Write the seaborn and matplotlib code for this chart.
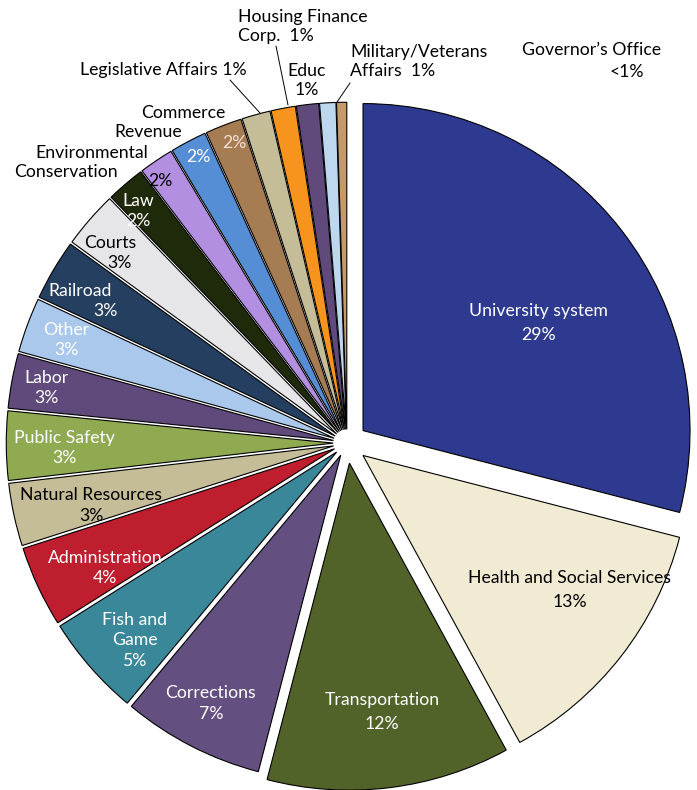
import matplotlib
matplotlib.use("Agg")
import matplotlib.pyplot as plt
import seaborn as sns

# ---- data (clockwise from 12 o'clock) ----
departments = ["University system", "Health and Social Services", "Transportation",
               "Corrections", "Fish and Game", "Administration", "Natural Resources",
               "Public Safety", "Labor", "Other", "Railroad", "Courts", "Law",
               "Environmental Conservation", "Revenue", "Commerce",
               "Legislative Affairs", "Housing Finance Corp.", "Educ",
               "Military/Veterans Affairs", "Governor's Office"]
shares = [29.0, 13.0, 12.0, 7.0, 5.0, 4.0, 3.1, 3.4, 2.7, 2.7, 3.0, 2.8, 1.9,
          1.7, 1.8, 1.8, 1.4, 1.2, 1.1, 0.8, 0.5]
pct_labels = ["29%", "13%", "12%", "7%", "5%", "4%", "3%", "3%", "3%", "3%", "3%",
              "3%", "2%", "2%", "2%", "2%", "1%", "1%", "1%", "1%", "<1%"]
colors = ["#2E3990", "#F1EBD3", "#52632A", "#634F80", "#3A879A", "#BE1E2D",
          "#C4BD97", "#8FAA50", "#5F4A7B", "#A9C8EB", "#243F60", "#E6E6E8",
          "#1F2A0A", "#B28FE0", "#558ED5", "#A67C52", "#C4BD97", "#F7941D",
          "#5F4A7B", "#BDD7EE", "#C49A6C"]

sns.set_theme(style="white")
plt.rcParams["font.family"] = ["Lato", "DejaVu Sans"]

W, H = 697, 790
CX, CY, R = 347, 443, 327

fig = plt.figure(figsize=(W / 100, H / 100), dpi=100)
ax = fig.add_axes([0, 0, 1, 1])

explode = [0.062 if i < 3 else 0.042 for i in range(len(shares))]
wedges, _ = ax.pie(shares, colors=colors, startangle=90, counterclock=False,
                   explode=explode, radius=1,
                   wedgeprops=dict(edgecolor="black", linewidth=0.8))
ax.set_xlim(-CX / R, (W - CX) / R)
ax.set_ylim(-(H - CY) / R, CY / R)
ax.set_aspect("equal")
ax.axis("off")


def P(x, y):
    return ((x - CX) / R, (CY - y) / R)


FS = 12.7
# (text, x_px, y_px, color, ha)
texts = [
    ("University system", 538, 311, "white", "center"),
    (pct_labels[0], 538, 335, "white", "center"),
    ("Health and Social Services", 570, 578, "black", "center"),
    (pct_labels[1], 570, 602, "black", "center"),
    ("Transportation", 382, 700, "white", "center"),
    (pct_labels[2], 382, 724, "white", "center"),
    ("Corrections", 211, 693, "white", "center"),
    (pct_labels[3], 211, 714, "white", "center"),
    ("Fish and", 135, 620, "white", "center"),
    ("Game", 135, 640, "white", "center"),
    (pct_labels[4], 135, 661, "white", "center"),
    ("Administration", 105, 558, "white", "center"),
    (pct_labels[5], 105, 578, "white", "center"),
    ("Natural Resources", 91, 495, "black", "center"),
    (pct_labels[6], 91, 516, "black", "center"),
    ("Public Safety", 64, 438, "white", "center"),
    (pct_labels[7], 64, 458, "white", "center"),
    ("Labor", 46, 378, "white", "center"),
    (pct_labels[8], 46, 398, "white", "center"),
    ("Other", 66, 330, "white", "center"),
    (pct_labels[9], 66, 350, "white", "center"),
    ("Railroad", 80, 291, "white", "center"),
    (pct_labels[10], 105, 311, "white", "center"),
    ("Courts", 110, 243, "black", "center"),
    (pct_labels[11], 119, 263, "black", "center"),
    ("Law", 138, 201, "white", "center"),
    (pct_labels[12], 138, 221, "white", "center"),
    (pct_labels[13], 160, 181, "black", "center"),
    (pct_labels[14], 198, 157, "white", "center"),
    (pct_labels[15], 234, 143, "#F3E0D6", "center"),
    ("Environmental", 92, 153, "black", "center"),
    ("Conservation", 66, 172, "black", "center"),
    ("Commerce", 183, 113, "black", "center"),
    ("Revenue", 148, 132, "black", "center"),
    ("Legislative Affairs 1%", 163, 70, "black", "center"),
    ("Housing Finance", 238, 17, "black", "left"),
    ("Corp.  1%", 238, 36, "black", "left"),
    ("Educ", 307, 71, "black", "center"),
    (pct_labels[18], 307, 90, "black", "center"),
    ("Military/Veterans", 350, 52, "black", "left"),
    ("Affairs  1%", 350, 71, "black", "left"),
    ("Governor\u2019s Office", 591, 50, "black", "center"),
    (pct_labels[20], 627, 72, "black", "center"),
]
for t, x, y, c, ha in texts:
    ax.text(*P(x, y), t, color=c, ha=ha, va="center", fontsize=FS)

# leader lines
for (x0, y0), (x1, y1) in [((230, 80), (260, 113)),
                           ((276, 46), (288, 105)),
                           ((350, 83), (337, 102))]:
    a, b = P(x0, y0), P(x1, y1)
    ax.plot([a[0], b[0]], [a[1], b[1]], color="black", lw=0.7)

fig.savefig("out.png", dpi=100)
